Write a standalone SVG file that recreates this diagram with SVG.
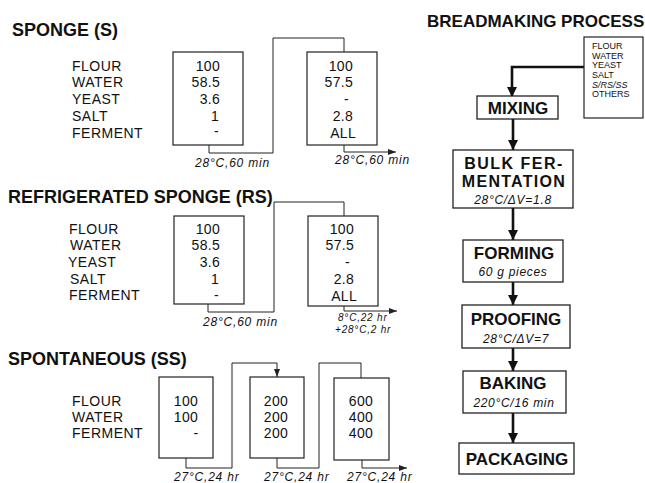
<svg xmlns="http://www.w3.org/2000/svg" width="645" height="483" viewBox="0 0 645 483">
<defs>
<style>
text{font-family:"Liberation Sans",Arial,sans-serif;fill:#111}
.title{font-size:18px;font-weight:bold}
.lab{font-size:14px;letter-spacing:0.5px}
.val{font-size:14px;letter-spacing:0.3px}
.r{text-anchor:end}
.m{text-anchor:middle}
.cond{font-size:12px;font-style:italic;letter-spacing:0.8px}
.cond2{font-size:10px;font-style:italic;letter-spacing:0.8px}
.box{fill:none;stroke:#222;stroke-width:1.2}
.thin{fill:none;stroke:#222;stroke-width:1}
.thick{fill:none;stroke:#111;stroke-width:2.6}
.pbox{fill:#fff;stroke:#222;stroke-width:1.3}
.ptxt{font-size:17px;font-weight:bold;text-anchor:middle}
.psub{font-size:12px;font-style:italic;text-anchor:middle;letter-spacing:0.7px}
.ing{font-size:9px}
</style>
<marker id="sa" viewBox="0 0 8 6" refX="8" refY="3" markerWidth="8" markerHeight="6" markerUnits="userSpaceOnUse" orient="auto"><path d="M0,0 L8,3 L0,6 z" fill="#222"/></marker>
<marker id="ba" viewBox="0 0 10 10" refX="10" refY="5" markerWidth="10" markerHeight="10" markerUnits="userSpaceOnUse" orient="auto"><path d="M0,0 L10,5 L0,10 z" fill="#111"/></marker>
</defs>
<rect width="645" height="483" fill="#fff"/>

<g id="sponge">
<text class="title" x="12" y="36">SPONGE (S)</text>
<text class="lab" x="72" y="71">FLOUR</text>
<text class="lab" x="72" y="87">WATER</text>
<text class="lab" x="72" y="104">YEAST</text>
<text class="lab" x="72" y="121">SALT</text>
<text class="lab" x="72" y="138">FERMENT</text>
</g>
<g id="s-box1">
<rect class="box" x="173" y="52" width="70" height="93"/>
<text class="val r" x="220" y="71">100</text>
<text class="val r" x="220" y="87">58.5</text>
<text class="val r" x="220" y="104">3.6</text>
<text class="val r" x="219" y="121">1</text>
<text class="val r" x="219" y="136">-</text>
</g>
<g id="s-box2">
<rect class="box" x="307" y="52" width="70" height="93"/>
<text class="val r" x="353" y="71">100</text>
<text class="val r" x="353" y="87">57.5</text>
<text class="val r" x="349" y="104">-</text>
<text class="val r" x="353" y="121">2.8</text>
<text class="val r" x="356" y="138">ALL</text>
</g>

<g id="refrigerated">
<text class="title" x="8" y="203">REFRIGERATED SPONGE (RS)</text>
<text class="lab" x="69" y="234">FLOUR</text>
<text class="lab" x="70" y="250">WATER</text>
<text class="lab" x="68" y="267">YEAST</text>
<text class="lab" x="70" y="284">SALT</text>
<text class="lab" x="69" y="300">FERMENT</text>
</g>
<g id="rs-box1">
<rect class="box" x="174" y="216" width="70" height="88"/>
<text class="val r" x="220" y="234">100</text>
<text class="val r" x="220" y="250">58.5</text>
<text class="val r" x="220" y="267">3.6</text>
<text class="val r" x="219" y="284">1</text>
<text class="val r" x="219" y="300">-</text>
</g>
<g id="rs-box2">
<rect class="box" x="308" y="216" width="70" height="90"/>
<text class="val r" x="354" y="234">100</text>
<text class="val r" x="354" y="250">57.5</text>
<text class="val r" x="350" y="267">-</text>
<text class="val r" x="354" y="284">2.8</text>
<text class="val r" x="357" y="301">ALL</text>
</g>

<g id="spontaneous">
<text class="title" x="8" y="365">SPONTANEOUS (SS)</text>
<text class="lab" x="72" y="406">FLOUR</text>
<text class="lab" x="72" y="422">WATER</text>
<text class="lab" x="72" y="438">FERMENT</text>
</g>
<g id="ss-box1">
<rect class="box" x="159" y="377" width="54" height="81"/>
<text class="val m" x="186" y="406">100</text>
<text class="val m" x="186" y="422">100</text>
<text class="val m" x="196" y="438">-</text>
</g>
<g id="ss-box2">
<rect class="box" x="250" y="377" width="54" height="81"/>
<text class="val m" x="276" y="406">200</text>
<text class="val m" x="276" y="422">200</text>
<text class="val m" x="276" y="438">200</text>
</g>
<g id="ss-box3">
<rect class="box" x="334" y="378" width="55" height="82"/>
<text class="val m" x="361" y="406">600</text>
<text class="val m" x="361" y="422">400</text>
<text class="val m" x="361" y="438">400</text>
</g>

<g id="connectors">
<path class="thin" d="M209,145 V153 H273 V38 H344 V52"/>
<path class="thin" d="M344,145 V152 H396" marker-end="url(#sa)"/>
<path class="thin" d="M208,304 V312 H274 V202 H344 V216"/>
<path class="thin" d="M344,306 V311 H397" marker-end="url(#sa)"/>
<path class="thin" d="M186,458 V468 H232 V363 H277 V377" marker-end="url(#sa)"/>
<path class="thin" d="M277,458 V468 H319 V363 H361 V378"/>
<path class="thin" d="M362,460 V468 H407" marker-end="url(#sa)"/>
<path class="thick" d="M584,67 H512 V97" marker-end="url(#ba)"/>
<path class="thick" d="M513,119 V150" marker-end="url(#ba)"/>
<path class="thick" d="M513,208 V240" marker-end="url(#ba)"/>
<path class="thick" d="M513,282 V305" marker-end="url(#ba)"/>
<path class="thick" d="M513,348 V371" marker-end="url(#ba)"/>
<path class="thick" d="M513,413 V443" marker-end="url(#ba)"/>
</g>

<g id="conditions">
<text class="cond" x="195" y="167">28°C,60 min</text>
<text class="cond" x="335" y="164">28°C,60 min</text>
<text class="cond" x="203" y="326">28°C,60 min</text>
<text class="cond2" x="338" y="321">8°C,22 hr</text>
<text class="cond2" x="335" y="332.5">+28°C,2 hr</text>
<text class="cond" x="174" y="481">27°C,24 hr</text>
<text class="cond" x="264" y="481">27°C,24 hr</text>
<text class="cond" x="347" y="481">27°C,24 hr</text>
</g>

<g id="process-title">
<text x="427" y="27" style="font-size:17px;font-weight:bold">BREADMAKING PROCESS</text>
</g>
<g id="ingredients">
<rect class="box" x="584" y="37" width="59" height="81"/>
<text class="ing" x="592" y="49">FLOUR</text>
<text class="ing" x="592" y="59">WATER</text>
<text class="ing" x="592" y="68">YEAST</text>
<text class="ing" x="592" y="78">SALT</text>
<text class="ing" x="592" y="88" font-style="italic">S/RS/SS</text>
<text class="ing" x="592" y="97">OTHERS</text>
</g>
<g id="mixing">
<rect class="pbox" x="477" y="96" width="81" height="23"/>
<text class="ptxt" x="518" y="113.5">MIXING</text>
</g>
<g id="bulk">
<rect class="pbox" x="453" y="150" width="120" height="58"/>
<text class="ptxt" x="514" y="169" style="font-size:16px;letter-spacing:1.5px">BULK FER-</text>
<text class="ptxt" x="514" y="187" style="font-size:16px;letter-spacing:1.3px">MENTATION</text>
<text class="psub" x="513" y="204">28°C/ΔV=1.8</text>
</g>
<g id="forming">
<rect class="pbox" x="463" y="240" width="100" height="42"/>
<text class="ptxt" x="514" y="259">FORMING</text>
<text class="psub" x="513" y="276">60 g pieces</text>
</g>
<g id="proofing">
<rect class="pbox" x="462" y="305" width="108" height="43"/>
<text class="ptxt" x="516" y="325">PROOFING</text>
<text class="psub" x="516" y="343">28°C/ΔV=7</text>
</g>
<g id="baking">
<rect class="pbox" x="463" y="371" width="103" height="42"/>
<text class="ptxt" x="513" y="389">BAKING</text>
<text class="psub" x="514" y="406.5">220°C/16 min</text>
</g>
<g id="packaging">
<rect class="pbox" x="459" y="443" width="115" height="31"/>
<text class="ptxt" x="517" y="464.5">PACKAGING</text>
</g>
</svg>
